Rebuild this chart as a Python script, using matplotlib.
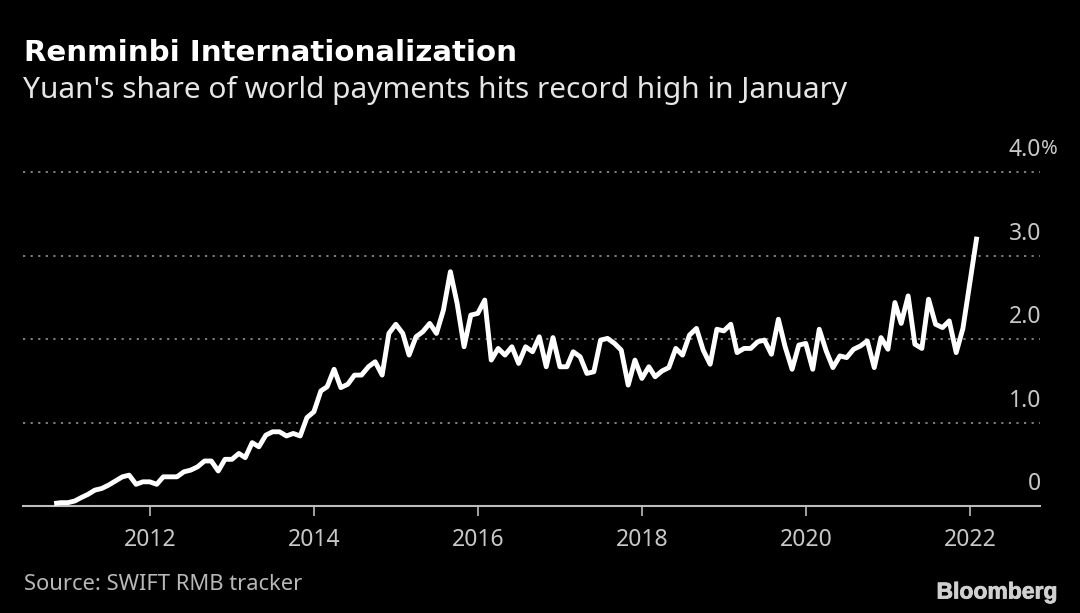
import matplotlib
matplotlib.use("Agg")
import matplotlib.pyplot as plt
import matplotlib.dates as mdates
import matplotlib.patheffects as pe
import pandas as pd

plt.rcParams["font.family"] = "Noto Sans"

# yuan share of world payments, percent, monthly up to Jan 2022
share = [
    .03, .04, .04, .06, .10, .14, .19, .21, .25, .30, .35, .37,
    .26, .29, .29, .26, .35, .35, .35, .41, .43, .47, .54, .54,
    .42, .56, .56, .63, .58, .76, .71, .85, .89, .89, .84, .87,
    .84, 1.06, 1.13, 1.38, 1.43, 1.64, 1.42, 1.46, 1.57, 1.57, 1.67,
    1.73, 1.57, 2.07, 2.18, 2.07, 1.81, 2.03, 2.09, 2.19, 2.07, 2.35, 2.81,
    2.43, 1.91, 2.29, 2.31, 2.47, 1.75, 1.89, 1.81, 1.91, 1.71, 1.91, 1.85,
    2.03, 1.67, 2.02, 1.67, 1.67, 1.85, 1.79, 1.59, 1.61, 1.99, 2.01, 1.95,
    1.87, 1.45, 1.75, 1.53, 1.67, 1.55, 1.62, 1.66, 1.89, 1.81, 2.05, 2.13,
    1.87, 1.70, 2.12, 2.10, 2.18, 1.84, 1.89, 1.89, 1.97, 1.99, 1.82, 2.24,
    1.91, 1.64, 1.93, 1.95, 1.64, 2.12, 1.86, 1.66, 1.80, 1.78, 1.88, 1.92,
    1.98, 1.66, 2.02, 1.88, 2.44, 2.19, 2.52, 1.94, 1.89, 2.48, 2.18, 2.14,
    2.22, 1.84, 2.13, 2.68, 3.23,
]
dates = pd.date_range(end="2022-01-31", periods=len(share), freq="ME")
tick_years = [2012, 2014, 2016, 2018, 2020, 2022]
grid_vals = [1, 2, 3, 4]
y_labels = ["0", "1.0", "2.0", "3.0", "4.0%"]
W, H = 1080, 613

fig = plt.figure(figsize=(W / 100, H / 100), dpi=100, facecolor="black")
# axes box: 23..1040 px across, 506 px is zero, 172.5 px is 4
ax = fig.add_axes([23 / W, (H - 506) / H, (1040 - 23) / W, (506 - 172.5) / H], facecolor="black")

ax.plot(dates, share, color="white", lw=3.5, solid_joinstyle="round", solid_capstyle="butt", zorder=3)

x0 = mdates.date2num(pd.Timestamp("2012-01-01")) - 127 / 82 * 365.25
x1 = mdates.date2num(pd.Timestamp("2012-01-01")) + 890 / 82 * 365.25
ax.set_xlim(x0, x1)
ax.set_ylim(0, 4)

for v in grid_vals:
    ax.axhline(v, color="#8a8a8a", lw=1.3, ls=(0, (1.2, 3.0)), clip_on=False, zorder=1)

for s in ["top", "left", "right"]:
    ax.spines[s].set_visible(False)
ax.spines["bottom"].set_color("#bdbdbd")
ax.spines["bottom"].set_linewidth(1.5)

ax.set_xticks([pd.Timestamp(f"{y}-01-01") for y in tick_years])
ax.set_xticklabels([str(y) for y in tick_years])
ax.tick_params(axis="x", length=7, width=1.2, color="#bdbdbd", labelcolor="#c8c8c8",
               labelsize=16.5, pad=8.5)
ax.set_yticks([])

# y labels sit above their gridlines, on the right
for v, lab in enumerate(y_labels):
    y_px = 506 - v * 83.4 - 22
    fig.text(1041 / W, 1 - y_px / H, lab.replace("%", ""), color="#c8c8c8", fontsize=16.5, ha="right", va="center")
    if "%" in lab:
        fig.text(1040.5 / W, 1 - (y_px - 1) / H, "%", color="#c8c8c8", fontsize=14.5, ha="left", va="center")

fig.text(24 / W, 1 - 53 / H, "Renminbi Internationalization", color="white", fontsize=21.1,
         fontweight="bold", family="DejaVu Sans", ha="left", va="center")
fig.text(23 / W, 1 - 90 / H, "Yuan's share of world payments hits record high in January",
         color="#e6e6e6", fontsize=21.5, ha="left", va="center")
fig.text(24 / W, 1 - 584 / H, "Source: SWIFT RMB tracker", color="#b8b8b8", fontsize=15.8,
         ha="left", va="center")
fig.text(1057 / W, 1 - 592 / H, "Bloomberg", color="#d0d0d0", fontsize=16.5, fontweight="bold",
         family="Liberation Sans", ha="right", va="center",
         path_effects=[pe.withStroke(linewidth=0.6, foreground="#d0d0d0")])

fig.savefig("out.png", dpi=100, facecolor="black")
